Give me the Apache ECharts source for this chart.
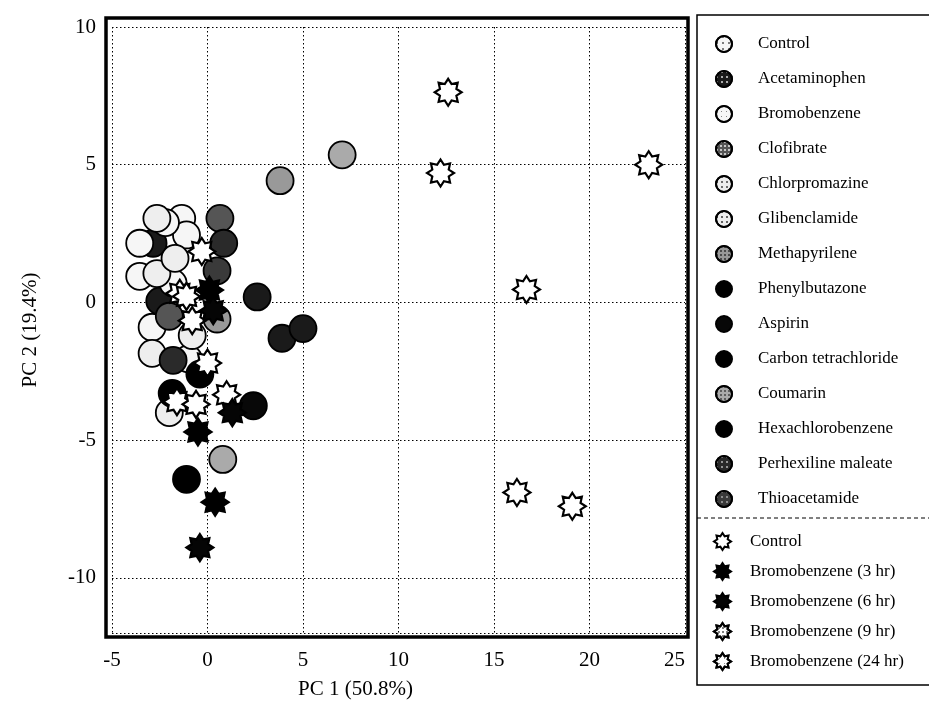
<!DOCTYPE html>
<html>
<head>
<meta charset="utf-8">
<script src="https://cdn.jsdelivr.net/npm/echarts@6/dist/echarts.min.js"></script>
<style>
html,body{margin:0;padding:0;background:#fff;}
#chart{width:929px;height:711px;}
</style>
</head>
<body>
<div id="chart"></div>
<script>
// ---------- data ----------
const xTicks = [-5, 0, 5, 10, 15, 20, 25];
const yTicks = [-10, -5, 0, 5, 10];

const circleNames = ['Control','Acetaminophen','Bromobenzene','Clofibrate','Chlorpromazine','Glibenclamide','Methapyrilene','Phenylbutazone','Aspirin','Carbon tetrachloride','Coumarin','Hexachlorobenzene','Perhexiline maleate','Thioacetamide'];
const starNames = ['Control ','Bromobenzene (3 hr)','Bromobenzene (6 hr)','Bromobenzene (9 hr)','Bromobenzene (24 hr)'];

const controlPts        = [[-1.35, 3.05], [-3.55, 0.95], [-2.9, -0.9], [-1.1, 2.45]];
const acetaminophenPts  = [[-2.85, 2.15], [2.6, 0.2], [3.9, -1.3], [5.0, -0.95], [-2.5, 0.05]];
const bromobenzenePts   = [[-3.55, 2.15], [-1.8, 0.7], [-1.0, -2.05], [-2.2, 2.9]];
const clofibratePts     = [[0.65, 3.05], [-2.0, -0.5]];
const chlorpromazinePts = [[-2.65, 1.05], [-2.9, -1.85], [-2.0, -4.0]];
const glibenclamidePts  = [[-2.65, 3.05], [-1.7, 1.6], [-0.8, -1.2]];
const methapyrilenePts  = [[3.8, 4.42], [0.5, -0.6]];
const phenylbutazonePts = [[-1.85, -3.3]];
const aspirinPts        = [[2.4, -3.75]];
const ccl4Pts           = [[-1.1, -6.42]];
const coumarinPts       = [[7.05, 5.36], [0.8, -5.7]];
const hexachloroPts     = [[-0.4, -2.6]];
const perhexilinePts    = [[0.85, 2.15], [-1.8, -2.1]];
const thioacetamidePts  = [[0.5, 1.15]];

const starControlPts = [[-0.3, 1.85], [-1.45, 0.33], [-1.1, 0.22], [-0.8, -0.66], [0.0, -2.2], [1.0, -3.35], [-1.6, -3.6], [-0.6, -3.7]];
const bromo3Pts  = [[0.1, 0.45], [-0.5, -4.7], [0.4, -7.25]];
const bromo6Pts  = [[-0.4, -8.9], [1.3, -4.0], [0.3, -0.3]];
const bromo9Pts  = [[16.7, 0.47], [16.2, -6.9], [19.1, -7.4]];
const bromo24Pts = [[12.6, 7.63], [12.2, 4.7], [23.1, 5.0]];

const circlePts = [controlPts, acetaminophenPts, bromobenzenePts, clofibratePts, chlorpromazinePts, glibenclamidePts, methapyrilenePts, phenylbutazonePts, aspirinPts, ccl4Pts, coumarinPts, hexachloroPts, perhexilinePts, thioacetamidePts];
const starPts = [starControlPts, bromo3Pts, bromo6Pts, bromo9Pts, bromo24Pts];

// ---------- styles ----------
function dots(color, size, gap){
  return {symbol:'circle', symbolSize:1, color:color, dashArrayX:[size, gap], dashArrayY:[size, gap], rotation:0};
}
const circleStyles = [
  {fill:'#f6f6f6', decal:dots('#555',1.2,3.5)},
  {fill:'#1a1a1a', decal:dots('#ddd',1.4,3)},
  {fill:'#f6f6f6', decal:dots('#666',1.0,4)},
  {fill:'#555', decal:dots('#eee',1.4,2)},
  {fill:'#eee', decal:dots('#444',1.2,3)},
  {fill:'#eee', decal:dots('#333',1.5,2.2)},
  {fill:'#999', decal:dots('#333',1.2,1.8)},
  {fill:'#000', decal:null},
  {fill:'#080808', decal:null},
  {fill:'#000', decal:null},
  {fill:'#aaa', decal:dots('#444',1.2,2)},
  {fill:'#000', decal:null},
  {fill:'#2a2a2a', decal:dots('#bbb',1.2,3)},
  {fill:'#3a3a3a', decal:dots('#aaa',1.2,2.5)}
];
const starStyles = [
  {fill:'#fff', decal:null},
  {fill:'#000', decal:null},
  {fill:'#050505', decal:null},
  {fill:'#fff', decal:dots('#555',1.2,1.6)},
  {fill:'#fff', decal:dots('#777',1.0,4)}
];

function starPath(n, rOut, rIn){
  let d = '';
  for (let i = 0; i < 2*n; i++){
    const a = (-90 + i*180/n) * Math.PI/180;
    const r = (i % 2) ? rIn : rOut;
    const px = (50 + r*Math.cos(a)).toFixed(2), py = (50 + r*Math.sin(a)).toFixed(2);
    d += (i===0 ? 'M' : 'L') + px + ' ' + py + ' ';
  }
  return 'path://' + d + 'Z';
}
const STAR = starPath(8, 50, 33);

const serif = 'Liberation Serif';
const series = [];
circleNames.forEach((nm, i) => {
  const st = circleStyles[i];
  const is = {color: st.fill, borderColor:'#000', borderWidth:1.8, opacity:1};
  if (st.decal) is.decal = st.decal;
  series.push({name:nm, type:'scatter', symbol:'circle', symbolSize:27, data:circlePts[i], itemStyle:is, z:2});
});
starNames.forEach((nm, i) => {
  const st = starStyles[i];
  const is = {color: st.fill, borderColor:'#000', borderWidth:2.2, opacity:1};
  if (st.decal) is.decal = st.decal;
  series.push({name:nm, type:'scatter', symbol:STAR, symbolSize:27, data:starPts[i], itemStyle:is, z:3});
});

const chart = echarts.init(document.getElementById('chart'), null, {renderer:'canvas'});
const option = {
  animation:false,
  backgroundColor:'#fff',
  grid:{left:112, top:27, width:573, height:606},
  xAxis:{
    type:'value', min:-5, max:25, interval:5,
    axisLine:{show:false}, axisTick:{show:false},
    axisLabel:{color:'#000', fontFamily:serif, fontSize:21, margin:17, alignMaxLabel:'right'},
    splitLine:{show:true, lineStyle:{color:'#000', type:[1.5,2.5], width:1}},
    name:'PC 1 (50.8%)', nameLocation:'middle', nameGap:46,
    nameTextStyle:{color:'#000', fontFamily:serif, fontSize:21, padding:[0,86,0,0]}
  },
  yAxis:{
    type:'value', min:-12, max:10, splitNumber:5,
    axisLine:{show:false}, axisTick:{show:false},
    axisLabel:{color:'#000', fontFamily:serif, fontSize:21, margin:16, showMinLabel:false},
    splitLine:{show:true, lineStyle:{color:'#000', type:[1.5,2.5], width:1}}
  },
  legend:[
    {
      data:circleNames, orient:'vertical', left:710, top:30,
      itemWidth:16, itemHeight:16, itemGap:17,
      textStyle:{color:'#000', fontFamily:serif, fontSize:17, lineHeight:16, padding:[0,0,0,21]},
      selectedMode:false
    },
    {
      data:starNames, orient:'vertical', left:708, top:527,
      itemWidth:17, itemHeight:17, itemGap:11,
      textStyle:{color:'#000', fontFamily:serif, fontSize:17, lineHeight:17, padding:[0,0,0,14]},
      selectedMode:false
    }
  ],
  graphic:[
    {type:'rect', shape:{x:106, y:18, width:582, height:619}, style:{fill:null, stroke:'#000', lineWidth:3.5}, silent:true, z:10},
    {type:'rect', shape:{x:697, y:15, width:260, height:670}, style:{fill:null, stroke:'#000', lineWidth:1.5}, silent:true, z:10},
    {type:'line', shape:{x1:697, y1:518, x2:929, y2:518}, style:{stroke:'#000', lineWidth:1, lineDash:[4,3]}, silent:true, z:10},
    {type:'text', x:30, y:330, rotation:Math.PI/2, silent:true,
     style:{text:'PC 2 (19.4%)', fill:'#000', font:'21px "Liberation Serif"', align:'center', verticalAlign:'middle'}}
  ],
  series:series
};
chart.setOption(option);
</script>
</body>
</html>
